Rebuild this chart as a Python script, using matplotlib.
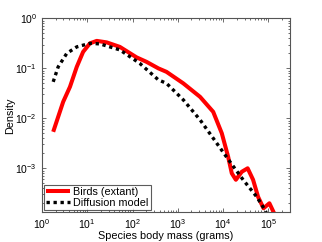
import matplotlib
matplotlib.use("Agg")
import matplotlib.pyplot as plt
import numpy as np

plt.rcParams['font.family'] = ['Liberation Sans', 'DejaVu Sans']

# log10 of body mass (grams) and density
birds_logmass = [0.25, 0.36, 0.47, 0.62, 0.77, 0.91, 1.06, 1.21, 1.43, 1.72, 2.09, 2.31,
                 2.57, 2.75, 3.12, 3.49, 3.78, 3.97, 4.11, 4.19, 4.28, 4.41, 4.54, 4.66,
                 4.77, 4.89, 5.02, 5.14, 5.22]
birds_logdens = [-2.27, -1.97, -1.67, -1.37, -0.97, -0.67, -0.50, -0.45, -0.48, -0.57, -0.78, -0.87,
                 -1.00, -1.07, -1.30, -1.57, -1.87, -2.30, -2.77, -3.10, -3.23, -3.07, -3.00, -3.23,
                 -3.57, -3.80, -3.70, -3.93, -4.30]

model_logmass = [0.25, 0.36, 0.55, 0.77, 1.06, 1.28, 1.72, 2.16, 2.57, 2.75, 3.12, 3.49,
                 3.86, 4.15, 4.44, 4.74, 4.92, 5.05]
model_logdens = [-1.27, -0.97, -0.70, -0.57, -0.50, -0.51, -0.63, -0.90, -1.23, -1.30, -1.63, -2.03,
                 -2.50, -2.87, -3.23, -3.57, -3.83, -4.10]

fig = plt.figure(figsize=(3.22, 2.42), dpi=100)
ax = fig.add_axes([0.130, 0.123, 0.771, 0.801])

ax.plot(10 ** np.array(birds_logmass), 10 ** np.array(birds_logdens), color='#ff0000', lw=2.9,
        label='Birds (extant)', solid_capstyle='butt')
ax.plot(10 ** np.array(model_logmass), 10 ** np.array(model_logdens), color='black', lw=2.4,
        linestyle=(0, (1, 1.1)), label='Diffusion model', dash_capstyle='butt')

ax.set_xscale('log')
ax.set_yscale('log')
ax.set_xlim(1, 3e5)
ax.set_ylim(1.32e-4, 1)
ax.set_xticks([1, 10, 100, 1e3, 1e4, 1e5])
ax.set_yticks([1e-3, 1e-2, 1e-1, 1])

for s in ax.spines.values():
    s.set_color('#555555')
    s.set_linewidth(0.8)
ax.tick_params(which='both', direction='in', top=True, right=True, colors='#555555',
               labelcolor='black', labelsize=7.5, width=0.6)
ax.tick_params(which='major', length=3)
ax.tick_params(which='minor', length=1.6)

ax.set_xlabel('Species body mass (grams)', fontsize=7.8, labelpad=0)
ax.set_ylabel('Density', fontsize=7.8, labelpad=0)

leg = ax.legend(loc='lower left', fontsize=7.8, frameon=True, fancybox=False,
                borderpad=0.2, handlelength=2.2, handletextpad=0.3, labelspacing=0.1,
                borderaxespad=0.2)
leg.get_frame().set_edgecolor('#333333')
leg.get_frame().set_linewidth(0.8)

fig.savefig('out.png', dpi=100)
